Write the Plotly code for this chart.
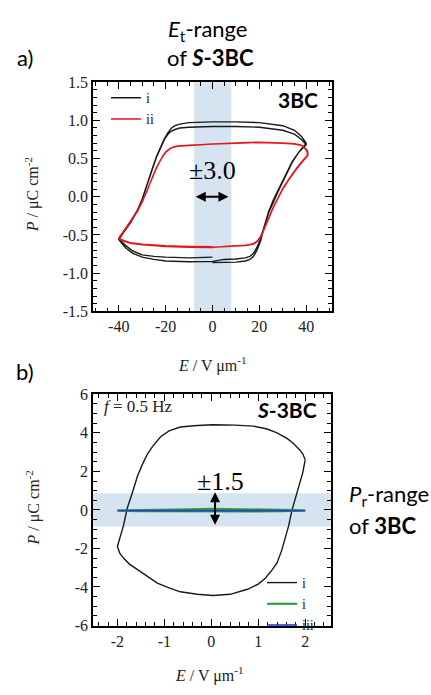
import plotly.graph_objects as go

# ---------------- data ----------------
# panel a) 3BC, curve i (black, two cycles)
TOP_I_E = [0, 5, 10, 14, 16, 17.5, 19, 20.5, 22, 24, 26, 28, 31, 34, 37, 40,
           38, 35, 30, 20, 10, 0, -10, -14, -16, -17.5, -19, -20.5, -22, -24, -26, -28, -30, -32, -35, -38, -40,
           -39, -37, -34, -30, -25, -20, -10, 0,
           5, 10, 14, 16, 17.5, 19, 20.5, 22, 24, 26, 28, 31, 34, 37, 40,
           38, 35, 30, 20, 10, 0, -10, -14, -16, -17.5, -19, -20.5, -22, -24, -26, -28, -30, -32, -35, -38, -40,
           -39, -37, -34, -30, -25, -20, -10, 0]
TOP_I_P = [-0.86, -0.86, -0.855, -0.84, -0.82, -0.78, -0.70, -0.58, -0.40, -0.21, -0.06, 0.07, 0.26, 0.45, 0.59, 0.70,
           0.79, 0.87, 0.93, 0.97, 0.98, 0.98, 0.97, 0.95, 0.93, 0.90, 0.84, 0.76, 0.66, 0.52, 0.34, 0.15, -0.03, -0.17, -0.33, -0.47, -0.56,
           -0.60, -0.67, -0.74, -0.79, -0.82, -0.84, -0.85, -0.845,
           -0.82, -0.815, -0.80, -0.78, -0.74, -0.66, -0.55, -0.39, -0.19, -0.04, 0.09, 0.28, 0.46, 0.59, 0.68,
           0.75, 0.82, 0.87, 0.91, 0.92, 0.92, 0.91, 0.90, 0.88, 0.86, 0.82, 0.75, 0.65, 0.51, 0.33, 0.14, -0.04, -0.18, -0.34, -0.47, -0.55,
           -0.58, -0.64, -0.71, -0.76, -0.78, -0.79, -0.80, -0.79]

# panel a) curve ii (red, two cycles)
TOP_II_E = [0, 5, 10, 14, 16, 17.5, 19, 20.5, 22, 24, 26, 28, 30, 33, 36, 39, 40.5,
            40.5, 39.5, 38, 35, 30, 20, 10, 0, -10, -15, -17, -18.5, -20, -21, -22, -24, -26, -28, -30, -32, -35, -38, -40,
            -38, -35, -30, -20, -10, 0,
            5, 10, 14, 16, 17.5, 19, 20.5, 22, 24, 26, 28, 30, 33, 36, 39, 40.8,
            40.6, 39.5, 38, 35, 30, 20, 10, 0, -10, -15, -17, -18.5, -20, -21, -22, -24, -26, -28, -30, -32, -35, -38, -40,
            -38, -35, -30, -20, -10, 0]
TOP_II_P = [-0.66, -0.655, -0.65, -0.64, -0.63, -0.62, -0.59, -0.53, -0.43, -0.28, -0.14, -0.02, 0.10, 0.24, 0.37, 0.48, 0.53,
            0.58, 0.63, 0.67, 0.69, 0.70, 0.71, 0.70, 0.69, 0.67, 0.66, 0.645, 0.62, 0.58, 0.54, 0.49, 0.37, 0.22, 0.06, -0.07, -0.19, -0.33, -0.46, -0.55,
            -0.58, -0.61, -0.63, -0.65, -0.66, -0.665,
            -0.65, -0.645, -0.635, -0.625, -0.61, -0.58, -0.52, -0.42, -0.27, -0.13, -0.01, 0.11, 0.25, 0.38, 0.49, 0.55,
            0.60, 0.64, 0.675, 0.695, 0.705, 0.715, 0.705, 0.695, 0.675, 0.665, 0.65, 0.625, 0.585, 0.545, 0.495, 0.38, 0.23, 0.07, -0.06, -0.18, -0.32, -0.45, -0.54,
            -0.57, -0.60, -0.62, -0.64, -0.65, -0.655]

# panel b) S-3BC curve i (black)
BOT_I_E = [2.0, 1.95, 1.89, 1.75, 1.62, 1.4, 1.19, 0.9, 0.5, 0.04, -0.3, -0.66, -0.9, -1.08, -1.25, -1.36, -1.47, -1.57, -1.68, -1.79, -1.87, -1.95, -2.0,
           -1.95, -1.87, -1.75, -1.57, -1.35, -1.15, -0.9, -0.66, -0.3, 0.04, 0.4, 0.77, 1.0, 1.15, 1.3, 1.4, 1.5, 1.58, 1.65, 1.72, 1.8, 1.88, 1.95, 2.0]
BOT_I_P = [2.6, 2.9, 3.1, 3.45, 3.7, 4.0, 4.2, 4.35, 4.4, 4.42, 4.38, 4.3, 4.1, 3.8, 3.3, 2.9, 2.35, 1.77, 0.9, 0.1, -0.8, -1.5, -1.9,
           -2.25, -2.5, -2.8, -3.1, -3.5, -3.8, -4.05, -4.25, -4.38, -4.44, -4.38, -4.12, -3.85, -3.55, -3.1, -2.75, -2.1, -1.4, -0.8, 0.0, 0.7, 1.3, 1.95, 2.6]

# panel b) curve "i" (green) and "iii" (blue)
BOT_G_E = [2.0, 1.5, 1.0, 0.5, 0.0, -0.5, -1.0, -1.5, -2.0, -1.5, -1.0, -0.5, 0.0, 0.5, 1.0, 1.5, 2.0]
BOT_G_P = [-0.02, 0.0, 0.02, 0.05, 0.06, 0.03, 0.01, 0.0, -0.04, -0.06, -0.07, -0.08, -0.09, -0.09, -0.08, -0.06, -0.02]
BOT_B_E = [-2.0, -1.0, 0.0, 1.0, 2.0, 1.0, 0.0, -1.0, -2.0]
BOT_B_P = [-0.03, -0.02, -0.02, -0.03, -0.04, -0.05, -0.05, -0.04, -0.03]

# ticks
TOP_X_TICKS = [-40, -20, 0, 20, 40]
TOP_X_LABELS = ["-40", "-20", "0", "20", "40"]
TOP_Y_TICKS = [-1.5, -1.0, -0.5, 0.0, 0.5, 1.0, 1.5]
TOP_Y_LABELS = ["-1.5", "-1.0", "-0.5", "0.0", "0.5", "1.0", "1.5"]
BOT_X_TICKS = [-2, -1, 0, 1, 2]
BOT_X_LABELS = ["-2", "-1", "0", "1", "2"]
BOT_Y_TICKS = [-6, -4, -2, 0, 2, 4, 6]
BOT_Y_LABELS = ["-6", "-4", "-2", "0", "2", "4", "6"]

# ---------------- figure ----------------
W, H = 431, 695
def px(x):
    return x / W
def py(y):
    return 1 - y / H

SERIF = "Liberation Serif"
SANS = "Lato"

fig = go.Figure()
fig.add_trace(go.Scatter(x=TOP_I_E, y=TOP_I_P, mode="lines", name="i",
                         line=dict(color="#1a1a1a", width=1.4), xaxis="x", yaxis="y", legend="legend"))
fig.add_trace(go.Scatter(x=TOP_II_E, y=TOP_II_P, mode="lines", name="ii",
                         line=dict(color="#e3161e", width=1.4), xaxis="x", yaxis="y", legend="legend"))
fig.add_trace(go.Scatter(x=BOT_I_E, y=BOT_I_P, mode="lines", name="i",
                         line=dict(color="#1a1a1a", width=1.4), xaxis="x2", yaxis="y2", legend="legend2"))
fig.add_trace(go.Scatter(x=BOT_G_E, y=BOT_G_P, mode="lines", name="i",
                         line=dict(color="#2aa040", width=2.2), xaxis="x2", yaxis="y2", legend="legend2"))
fig.add_trace(go.Scatter(x=BOT_B_E, y=BOT_B_P, mode="lines", name="iii",
                         line=dict(color="#2b3fc8", width=1.6), xaxis="x2", yaxis="y2", legend="legend2"))

axis_common = dict(showline=True, linecolor="black", linewidth=1.6, mirror="ticks",
                   ticks="inside", ticklen=7, tickwidth=1.3, tickcolor="black",
                   showgrid=False, zeroline=False,
                   tickfont=dict(family=SERIF, size=16, color="#222"),
                   tickmode="array")

fig.update_layout(
    width=W, height=H, margin=dict(l=0, r=0, t=0, b=0),
    paper_bgcolor="white", plot_bgcolor="white",
    xaxis=dict(domain=[px(93), px(332)], anchor="y", range=[-51, 51],
               tickvals=TOP_X_TICKS, ticktext=TOP_X_LABELS,
               minor=dict(ticks="inside", ticklen=4, tickwidth=1, tickcolor="black", tickmode="linear", tick0=0, dtick=5),
               **axis_common),
    yaxis=dict(domain=[py(311), py(76)], anchor="x", range=[-1.5, 1.5],
               tickvals=TOP_Y_TICKS, ticktext=TOP_Y_LABELS,
               minor=dict(ticks="inside", ticklen=4, tickwidth=1, tickcolor="black", tickmode="linear", tick0=0, dtick=0.1),
               **axis_common),
    xaxis2=dict(domain=[px(93), px(331)], anchor="y2", range=[-2.52, 2.55],
                tickvals=BOT_X_TICKS, ticktext=BOT_X_LABELS,
                minor=dict(ticks="inside", ticklen=4, tickwidth=1, tickcolor="black", tickmode="linear", tick0=0, dtick=0.2),
                **axis_common),
    yaxis2=dict(domain=[py(633), py(396)], anchor="x2", range=[-6, 6],
                tickvals=BOT_Y_TICKS, ticktext=BOT_Y_LABELS,
                minor=dict(ticks="inside", ticklen=4, tickwidth=1, tickcolor="black", tickmode="linear", tick0=0, dtick=0.5),
                **axis_common),
    legend=dict(x=px(106), y=py(76), xanchor="left", yanchor="top", bgcolor="rgba(0,0,0,0)",
                font=dict(family=SERIF, size=14, color="#222"), tracegroupgap=0),
    legend2=dict(x=px(262), y=py(573), xanchor="left", yanchor="top", bgcolor="rgba(0,0,0,0)",
                 font=dict(family=SERIF, size=14, color="#222"), tracegroupgap=0),
)

# shaded ranges
fig.add_shape(type="rect", xref="x", yref="y domain", x0=-7.8, x1=8.0, y0=0, y1=1,
              fillcolor="#d6e3f0", line=dict(width=0), layer="below")
fig.add_shape(type="rect", xref="x2 domain", yref="y2", x0=0, x1=1, y0=-0.86, y1=0.86,
              fillcolor="#d6e3f0", line=dict(width=0), layer="below")

ann = []
def text(x, y, s, size, family=SANS, xanchor="center", angle=0, color="black"):
    ann.append(dict(x=px(x), y=py(y), xref="paper", yref="paper", text=s, showarrow=False,
                    font=dict(family=family, size=size, color=color), xanchor=xanchor, yanchor="middle",
                    textangle=angle))

text(25, 51, "a)", 22)
text(25, 373, "b)", 22)
text(207, 23, "<i>E</i><sub>t</sub>-range", 22)
text(210, 51, "of <b><i>S</i>-3BC</b>", 22)
text(298, 94, "<b>3BC</b>", 21)
text(287, 412, "<b><i>S</i>-3BC</b>", 21)
text(102, 408, "<i>f</i> = 0.5 Hz", 17, family=SERIF, xanchor="left", color="#222")
text(347, 499, "<i>P</i><sub>r</sub>-range", 22, xanchor="left")
text(347, 530, "of <b>3BC</b>", 22, xanchor="left")
text(212, 365, "<i>E</i> / V μm<sup>-1</sup>", 16, family=SERIF, color="#222")
text(209, 683, "<i>E</i> / V μm<sup>-1</sup>", 16, family=SERIF, color="#222")
text(32, 192, "<i>P</i> / μC cm<sup>-2</sup>", 16, family=SERIF, angle=-90, color="#222")
text(33, 513, "<i>P</i> / μC cm<sup>-2</sup>", 16, family=SERIF, angle=-90, color="#222")

# in-plot labels and arrows
ann.append(dict(x=0.2, y=0.345, xref="x", yref="y", text="±3.0", showarrow=False,
                font=dict(family=SERIF, size=26, color="black")))
ann.append(dict(x=6.8, y=0.0, ax=-7.8, ay=0.0, xref="x", yref="y", axref="x", ayref="y", text="",
                showarrow=True, arrowhead=2, startarrowhead=2, arrowside="end+start",
                arrowwidth=2, arrowsize=1.0, startarrowsize=1.0, arrowcolor="black"))
ann.append(dict(x=0.19, y=1.5, xref="x2", yref="y2", text="±1.5", showarrow=False,
                font=dict(family=SERIF, size=26, color="black")))
ann.append(dict(x=0.08, y=0.92, ax=0.08, ay=-0.85, xref="x2", yref="y2", axref="x2", ayref="y2", text="",
                showarrow=True, arrowhead=2, startarrowhead=2, arrowside="end+start",
                arrowwidth=2, arrowsize=1.0, startarrowsize=1.0, arrowcolor="black"))

fig.update_layout(annotations=ann)
fig.write_html("out.html")
